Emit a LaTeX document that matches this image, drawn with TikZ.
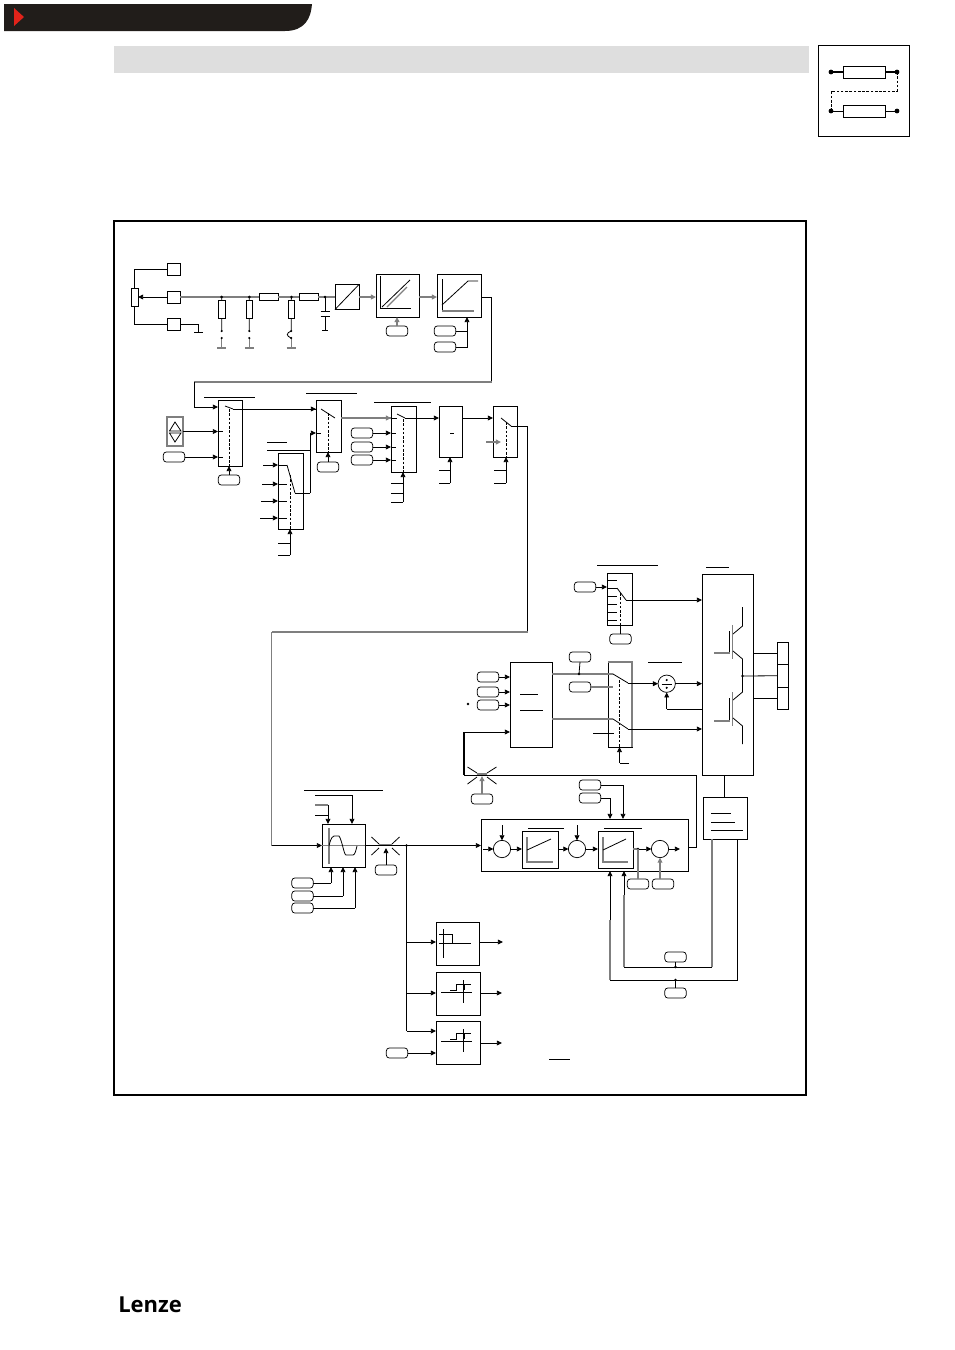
\documentclass[tikz,border=0pt]{standalone}
\usepackage{fontspec}
\newfontfamily\logofont{Open Sans}
\usetikzlibrary{arrows.meta}
\definecolor{hdr}{HTML}{211D1A}
\definecolor{hred}{HTML}{E2231A}
\definecolor{bar}{HTML}{DEDEDE}
\definecolor{gline}{HTML}{7F7F7F}
\tikzset{
  bxs/.style={draw=black,line width=0.7pt,rectangle,inner sep=0pt,outer sep=0pt},
  pills/.style={draw=black,line width=0.55pt,rectangle,rounded corners=2.2pt,inner sep=0pt,outer sep=0pt,minimum width=16pt,minimum height=7.5pt},
  circs/.style={draw=black,line width=0.55pt,circle,inner sep=0pt,outer sep=0pt,minimum size=13pt},
  wire/.style={draw=black,line width=0.6pt},
  gwire/.style={draw=gline,line width=0.8pt},
  tipa/.style={-{Triangle[length=3.8pt,width=3.6pt]}},
  wa/.style={wire,tipa},
  ga/.style={gwire,tipa},
  dashw/.style={draw=black,line width=0.6pt,dash pattern=on 2pt off 1.2pt},
  dotf/.style={fill=black},
  icon/.style={draw=black,line width=0.6pt},
  gicon/.style={draw=gline,line width=0.9pt}
}
\newcommand\bx[6][]{\node[bxs,#1,minimum width={(#5-#3)*0.75pt},minimum height={(#6-#4)*0.75pt}] (#2) at ({(#3+#5)/2},{(#4+#6)/2}) {};}
\newcommand\pl[3]{\node[pills] (#1) at (#2,#3) {};}
\newcommand\jn[1]{\fill[dotf] (#1) circle[radius=1.1pt];}
\begin{document}
\begin{tikzpicture}[x=0.75pt,y=-0.75pt]
\useasboundingbox (0,0) rectangle (954,1350);
\fill[white] (0,0) rectangle (954,1350);
% page furniture
\fill[hdr] (4,4) -- (312,4) .. controls (311,18) and (305,31) .. (285,31) -- (4,31) -- cycle;
\fill[hred] (14,8) -- (24,17) -- (14,26) -- cycle;
\fill[bar] (114,46) rectangle (809,73);
\node[inner sep=0pt,anchor=base west] (logo) at (118,1312) {\logofont\bfseries\fontsize{16.5pt}{16.5pt}\selectfont Lenze};
% legend
\bx{leg}{818}{45}{909}{136}
\bx{lega}{843}{66}{885}{78}
\bx{legb}{843}{105}{885}{117}
\coordinate (la) at (831,72); \coordinate (lb) at (897,72);
\coordinate (lc) at (831,111); \coordinate (ld) at (897,111);
\coordinate (le) at (897,91); \coordinate (lf) at (831,91);
\draw[line width=1.2pt] (la) -- (lega.west) (lega.east) -- (lb);
\draw[wire] (lc) -- (legb.west) (legb.east) -- (ld);
\draw[dashw] (lb) -- (le) -- (lf) -- (lc);
\fill[dotf] (la) circle[radius=1.8pt] (lb) circle[radius=1.8pt] (lc) circle[radius=1.8pt] (ld) circle[radius=1.8pt];
% main frame
\bx[line width=0.9pt]{frame}{114}{221}{806}{1095}
% === terminal row ===
\bx{t1}{167}{263}{180}{275}
\bx{t2}{167}{291}{180}{303}
\bx{t3}{167}{318}{180}{330}
\bx{pot}{131}{288}{138}{306}
\draw[wire] (t1.west) -| (pot.north);
\draw[wire] (t3.west) -| (pot.south);
\draw[wa] (t2.west) -- (pot.east);
\coordinate (g0) at (198,332);
\draw[wire] (t3.east) -| (g0);
\draw[wire] (194,332) -- (203,332);
\bx{rh1}{259}{293.5}{278}{300.5}
\bx{rh2}{299}{293.5}{318}{300.5}
\bx{ad}{335}{284.5}{359}{309.5}
\draw[icon] (ad.south west) -- (ad.north east);
\draw[gwire] (t2.east) -- (rh1.west);
\draw[gwire] (rh1.east) -- (rh2.west);
\draw[gwire] (rh2.east) -- (ad.west);
\coordinate (j1) at (221.7,297); \coordinate (j2) at (249.3,297);
\coordinate (j3) at (291.5,297); \coordinate (j4) at (325,297);
\bx{rv1}{218.5}{300}{225}{318}
\bx{rv2}{246}{300}{252.5}{318}
\bx{rv3}{288}{300}{294.5}{318}
\foreach \a/\b/\x in {j1/rv1/221.7,j2/rv2/249.3,j3/rv3/291.2}{
  \draw[wire] (\a) -- (\b.north);
  \jn{\a}
  \coordinate (\b d1) at (\x,331); \coordinate (\b d2) at (\x,338); \coordinate (\b g) at (\x,348);
  \draw[wire] (\b.south) -- (\b d1);
  \draw[gwire] (\b d2) -- (\b g);
  \draw[gwire] (\x-4.5,348) -- (\x+4.5,348);
  \fill[dotf] (\b d1) circle[radius=0.9pt] (\b d2) circle[radius=0.9pt];
}
\draw[wire] (291.2,331) .. controls (286,333) and (286,336) .. (291.2,338);
\jn{j4}
\coordinate (capa) at (325,311); \coordinate (capb) at (325,316); \coordinate (capc) at (325,330);
\draw[wire] (j4) -- (capa);
\draw[wire] (capb) -- (capc);
\draw[wire] (320.5,311) -- (329.5,311) (320.5,316) -- (329.5,316) (322,330) -- (328,330);
\bx{k1}{376}{274}{419}{317}
\bx{k2}{437}{274}{481}{317}
\draw[ga] (ad.east) -- (ad.east -| k1.west);
\draw[ga] (k1.east |- ad.east) -- (k2.west |- ad.east);
\draw[icon] (380,276) -- (380,308) -- (411,308);
\draw[icon] (382,307) -- (410,280);
\draw[gicon] (387,307) -- (407,287);
\draw[icon] (442,279) -- (442,311);
\draw[gicon] (442,311) -- (474,311);
\draw[icon] (442,305) -- (468,281) -- (478,281);
\pl{pk1}{397}{331}
\draw[ga] (pk1.north) -- (pk1.north |- k1.south);
\pl{pk2a}{445}{331}
\pl{pk2b}{445}{347}
\coordinate (kc) at (467,331);
\draw[wa] (pk2b.east) -| (k2.south -| kc);
\draw[wire] (pk2a.east) -- (kc);
% return run
\coordinate (r1) at (491.5,382); \coordinate (r2) at (194,382);
\draw[wire] (k2.east |- ad.east) -| (r1);
\draw[gwire] (r1) -- (r2);
% === setpoint selectors ===
\bx{s1}{218}{400}{242}{466}
\bx{s2}{316}{400}{341}{452}
\bx{s3}{278}{453}{303}{529}
\bx{s4}{391}{406}{416}{472}
\bx{s5}{439}{406}{462}{457}
\bx{s6}{493}{406}{517}{457}
\draw[wire] (204,397) -- (255,397);
\draw[wire] (306,393) -- (357,393);
\draw[wire] (267,442) -- (287,442);
\draw[wire] (267,450) -- (310,450);
\draw[wire] (374,402) -- (431,402);
\draw[wa] (r2) |- (s1.west |- 0,407);
\bx[draw=gline,line width=0.9pt]{ud}{167}{417}{183}{446}
\draw[icon] (169.5,431) -- (175,422) -- (181,431) -- cycle;
\draw[icon] (169.5,433) -- (175,442) -- (181,433) -- cycle;
\draw[wa] (ud.east) -- (ud.east -| s1.west);
\draw[wire] (s1.west |- ud.east) -- ++(5,0);
\pl{ps1}{174}{457}
\draw[wa] (ps1.east) -- (ps1.east -| s1.west);
\draw[wire] (s1.west |- ps1.east) -- ++(5,0);
\draw[wire] (225,406) -- (233,409);
\draw[dashw] (229,409) -- (229,466);
\pl{ps1c}{229}{480}
\draw[wa] (ps1c.north) -- (s1.south -| ps1c.north);
\draw[wire] (233,409) -- (316,409);
\draw[wa] (300,409) -- (s2.west |- 0,409);
\draw[wire] (321,409) -- (335,418);
\draw[dashw] (328,413) -- (328,452);
\pl{ps2c}{328}{467}
\draw[wa] (ps2c.north) -- (s2.south -| ps2c.north);
\coordinate (s3o) at (310,493);
\draw[wire] (295,493) -- (s3o);
\draw[wa] (s3o) |- (s2.west |- 0,433);
\draw[wire] (s2.west |- 0,433) -- ++(5,0);
\draw[wire] (287,465) -- (295,493);
\foreach \y/\x in {465/263,484/262,501/261,518/260}{
  \draw[wa] (\x,\y) -- (s3.west |- 0,\y);
  \draw[wire] (s3.west |- 0,\y) -- (287,\y);
}
\draw[dashw] (290,475) -- (290,529);
\coordinate (s3c) at (290,555);
\draw[wire] (278,543) -- (290,543);
\draw[wire] (278,555) -- (s3c);
\draw[wa] (s3c) -- (s3.south -| s3c);
\draw[gwire] (341,418) -- (391,418);
\draw[ga] (341,418) -- (s4.west |- 0,418);
\draw[wire] (s4.west |- 0,418) -- ++(6,0);
\foreach \n/\y in {ps4a/433,ps4b/447,ps4c/460}{
  \pl{\n}{362}{\y}
  \draw[wa] (\n.east) -- (\n.east -| s4.west);
  \draw[wire] (\n.east -| s4.west) -- ++(5,0);
}
\draw[wire] (397,414) -- (405,418);
\draw[dashw] (403,419) -- (403,472);
\coordinate (s4c) at (403,502);
\draw[wire] (391,483) -- (403,483) (391,493) -- (403,493) (391,502) -- (s4c);
\draw[wa] (s4c) -- (s4.south -| s4c);
\draw[wa] (405,418) -- (s5.west |- 0,418);
\draw[wire] (450,433) -- (454,433);
\coordinate (s5c) at (450,483);
\draw[wire] (439,470) -- (450,470);
\draw[wire] (439,483) -- (s5c);
\draw[wa] (s5c) -- (s5.south -| s5c);
\draw[wa] (s5.east |- 0,418) -- (s6.west |- 0,418);
\draw[wire] (501,418) -- (511,426);
\draw[dashw] (506,422) -- (506,457);
\draw[ga] (486,442) -- (501,442);
\coordinate (s6c) at (506,483);
\draw[wire] (494,470) -- (506,470);
\draw[wire] (494,483) -- (s6c);
\draw[wa] (s6c) -- (s6.south -| s6c);
% run to ramp
\coordinate (d1) at (527.7,426); \coordinate (d2) at (527.7,632); \coordinate (d3) at (271.5,632);
\draw[wire] (511,426) -- (d1);
\draw[wire] (d1) -- (d2);
\draw[gwire] (d2) -- (d3);
% === IGBT section ===
\bx{q7}{607}{573}{632}{625}
\bx{igbt}{702}{574}{753}{775}
\draw[wire] (597,565) -- (658,565);
\draw[wire] (706,567) -- (729,567);
\pl{pq7}{585}{587}
\draw[wa] (pq7.east) -- (pq7.east -| q7.west);
\foreach \y in {580,588,596,604,612,620}{\draw[wire] (q7.west |- 0,\y) -- (617,\y);}
\draw[wire] (617,588) -- (626,600);
\draw[dashw] (620,593) -- (620,625);
\pl{pq7c}{620.5}{639}
\draw[wire] (pq7c.north) -- (q7.south -| pq7c.north);
\draw[wa] (626,600) -- (igbt.west |- 0,600);
% transistors
\draw[icon] (742.5,607) -- (742.5,626) -- (733,634);
\draw[line width=1pt,gline] (732.5,625) -- (732.5,659);
\draw[icon] (729.5,631) -- (729.5,653);
\draw[gicon] (714,653) -- (729.5,653);
\draw[icon] (733,651) -- (742.5,659) -- (742.5,692) -- (733,700);
\draw[line width=1pt,gline] (732.5,692) -- (732.5,726);
\draw[icon] (729.5,698) -- (729.5,721);
\draw[gicon] (714,721) -- (729.5,721);
\draw[icon] (733,718) -- (742.5,726) -- (742.5,744);
\coordinate (ojn) at (742.5,676);
\jn{ojn}
\bx{os1}{777}{642}{788}{664.5}
\bx{os2}{777}{664.5}{788}{687}
\bx{os3}{777}{687}{788}{709}
\draw[wire] (igbt.east |- os1.west) -- (os1.west);
\draw[wire] (ojn) -- (os2.west);
\draw[wire] (igbt.east |- os3.west) -- (os3.west);
% modulator
\bx{pwm}{510}{662}{552}{747}
\draw[wire] (520,694) -- (538,694) (520,710) -- (543,710);
\pl{pp1}{488}{677}
\pl{pp2}{488}{692}
\pl{pp3}{488}{705}
\draw[wa] (pp1.east) -- (pp1.east -| pwm.west);
\draw[wa] (pp2.east) -- (pp2.east -| pwm.west);
\draw[wa] (pp3.east) -- (pp3.east -| pwm.west);
\fill[dotf] (468,704) circle[radius=1.1pt];
\bx{q8}{608}{662}{632}{747}
\draw[gwire] (q8.north west) -- (q8.north east) -- (q8.south east);
\pl{pq8a}{580}{657}
\pl{pq8b}{580}{687}
\coordinate (jq8) at (579,674);
\draw[gwire] (pwm.east |- jq8) -- (613,674);
\draw[wire] (pq8a.south) -- (jq8);
\jn{jq8}
\draw[gwire] (pq8b.east) -- (613,687);
\draw[wire] (613,674) -- (628,683);
\draw[gwire] (pwm.east |- 0,719) -- (613,719);
\draw[wire] (613,719) -- (628,729);
\draw[dashw] (619.5,680) -- (619.5,747);
\draw[wire] (593,733) -- (614,733);
\coordinate (q8c) at (619.5,763); \coordinate (q8d) at (629,763);
\draw[wire] (q8d) -- (q8c);
\draw[wa] (q8c) -- (q8.south -| q8c);
\node[circs] (dv) at (666.7,683.7) {};
\draw[wire] (661.5,684) -- (672,684);
\fill[dotf] (666.7,680) circle[radius=0.9pt] (666.7,687.8) circle[radius=0.9pt];
\draw[wire] (648,662) -- (682,662);
\draw[wa] (628,683.7) -- (dv.west);
\draw[wa] (dv.east) -- (igbt.west |- dv.east);
\coordinate (dvf) at (666.7,709);
\draw[wire] (igbt.west |- dvf) -- (dvf);
\draw[wa] (dvf) -- (dv.south);
\draw[wa] (628,729) -- (igbt.west |- 0,729);
% bus
\coordinate (xb) at (482,773);
\coordinate (b1) at (464,775); \coordinate (b2) at (696.7,775); \coordinate (b3) at (696.7,847);
\draw[line width=1pt] (b1) -- (464,732);
\draw[wa] (464,732) -- (pwm.west |- 0,732);
\draw[wire] (b1) -- (b2) -- (b3);
\draw[icon] (467.5,767) -- (477,773) (496.5,767) -- (487,773) (467.5,784) -- (477,777) (496.5,784) -- (487,777);
\draw[gicon,line width=1.5pt] (477,773.5) -- (487,773.5);
\pl{px2}{482}{799}
\draw[ga] (px2.north) -- (482,776);
% sensor
\bx{sen}{703}{797}{747}{839}
\draw[wire] (711,813) -- (731,813) (711,822) -- (735,822) (711,830) -- (743,830);
\draw[wire] (igbt.south -| 724.7,0) -- (sen.north -| 724.7,0);
% === ramp ===
\bx{ramp}{322}{824}{365}{867}
\draw[wire] (304,790) -- (383,790);
\draw[gwire] (d3) -- (271.5,845.5);
\draw[wa] (271.5,845.5) -- (ramp.west);
\coordinate (ra) at (352,795); \coordinate (rb) at (328,805);
\draw[wire] (315,795) -- (ra);
\draw[wa] (ra) -- (ramp.north -| ra);
\draw[gwire] (315,805) -- (rb);
\draw[wire] (315,815) -- (328,815);
\draw[wa] (rb) -- (ramp.north -| rb);
\foreach \n/\y/\x in {pr1/883/331,pr2/896/343,pr3/908/355}{
  \pl{\n}{302.5}{\y}
  \coordinate (\n c) at (\x,\y);
  \draw[wire] (\n.east) -- (\n c);
  \draw[wa] (\n c) -- (ramp.south -| \n c);
}
\draw[gicon,line width=1.1pt] (329,828) -- (329,864);
\draw[gwire] (322,845.5) -- (365,845.5);
\draw[icon] (329,846) .. controls (331,837) and (333,836) .. (334,836) -- (339,836) .. controls (342,840) and (344,855) .. (346,855) -- (353,855) .. controls (355,855) and (356,850) .. (357,846);
\draw[icon] (371.5,837) -- (379,844) (399.5,837) -- (392,844) (371.5,855) -- (379,848) (399.5,855) -- (392,848);
\draw[gicon,line width=1.5pt] (379,844.5) -- (392,844.5);
\pl{pxr}{386}{870}
\draw[wa] (pxr.north) -- (386,848);
% === control ===
\bx{ctrl}{481}{819}{688}{871}
\draw[wa] (ramp.east |- 0,845.5) -- (ctrl.west |- 0,845.5);
\coordinate (mj) at (406.5,845.5);
\jn{mj}
\node[circs] (c1) at (502,849) {};
\node[circs] (c2) at (577,849) {};
\node[circs] (c3) at (660,849) {};
\bx{pi1}{522}{831}{558}{868}
\bx{pi2}{598}{831}{633}{868}
\draw[wire] (528,828) -- (564,828) (604,828) -- (642,828);
\draw[gicon] (527,837) -- (527,862) -- (553,862);
\draw[icon] (527,850) -- (551,839);
\draw[gicon] (603,837) -- (603,862) -- (628,862);
\draw[icon] (603,850) -- (626,839);
\draw[wa] (483,849) -- (c1.west);
\draw[wa] (502,825) -- (c1.north);
\draw[wa] (c1.east) -- (pi1.west |- c1.east);
\draw[wa] (pi1.east |- c2.west) -- (c2.west);
\draw[wa] (577,825) -- (c2.north);
\draw[wa] (c2.east) -- (pi2.west |- c2.east);
\coordinate (j5) at (638,849);
\draw[gwire] (pi2.east |- j5) -- (j5);
\draw[wa] (j5) -- (c3.west);
\jn{j5}
\draw[wa] (c3.east) -- (680,849);
\pl{pc1}{638}{884}
\pl{pc2}{663}{884}
\draw[gwire] (pc1.north -| j5) -- (j5);
\draw[ga] (pc2.north -| c3.south) -- (c3.south);
\draw[wire] (b3) -- (ctrl.east |- b3);
\pl{pt1}{590}{785}
\pl{pt2}{590}{798}
\coordinate (ta) at (623,785); \coordinate (tb) at (610,798);
\draw[wire] (pt1.east) -- (ta);
\draw[wire] (pt2.east) -- (tb);
\draw[wa] (ta) -- (ctrl.north -| ta);
\draw[wa] (tb) -- (ctrl.north -| tb);
% feedback
\coordinate (f1) at (712,967); \coordinate (f2) at (624,967);
\coordinate (f3) at (737,980); \coordinate (f4) at (610,980);
\draw[gwire] (sen.south -| f1) -- (f1);
\draw[wire] (f1) -- (f2);
\draw[gwire] (f2) -- (624,895);
\draw[wa] (624,895) -- (ctrl.south -| f2);
\draw[wire] (sen.south -| f3) -- (f3) -- (f4);
\draw[gwire] (f4) -- (610,920);
\draw[wa] (610,920) -- (ctrl.south -| f4);
\pl{pf1}{675.5}{957}
\pl{pf2}{675.5}{993}
\coordinate (jf1) at (675.5,967); \coordinate (jf2) at (675.5,980);
\draw[wire] (pf1.south) -- (jf1);
\draw[wire] (pf2.north) -- (jf2);
\jn{jf1}\jn{jf2}
% === comparators ===
\bx{ca}{436}{922}{479}{965}
\bx{cb}{436}{972}{480}{1015}
\bx{cc}{436}{1021}{480}{1064}
\coordinate (mv) at (406.5,1031);
\draw[wire] (mj) -- (mv);
\draw[wa] (mv) -- (mv -| cc.west);
\draw[wa] (mv |- 0,942) -- (ca.west |- 0,942);
\draw[wa] (mv |- 0,993) -- (cb.west |- 0,993);
\pl{pcc}{397}{1053}
\draw[wa] (pcc.east) -- (pcc.east -| cc.west);
\draw[wa] (ca.east |- 0,942) -- (503,942);
\draw[wa] (cb.east |- 0,993) -- (502,993);
\draw[wa] (cc.east |- 0,1043) -- (502,1043);
\draw[icon] (443,929) -- (443,958) (439,943) -- (471,943) (439,934) -- (452,934) -- (452,943);
\foreach \o in {0,49}{
  \draw[icon] (441,992+\o) -- (472,992+\o) (463,980+\o) -- (463,1003+\o);
  \draw[icon] (450,990+\o) -- (456,990+\o) -- (456,984+\o) -- (471,984+\o);
  \draw[line width=1pt] (464,984+\o) -- (464,990+\o);
}
\draw[wire] (549,1059) -- (570,1059);
\end{tikzpicture}
\end{document}
